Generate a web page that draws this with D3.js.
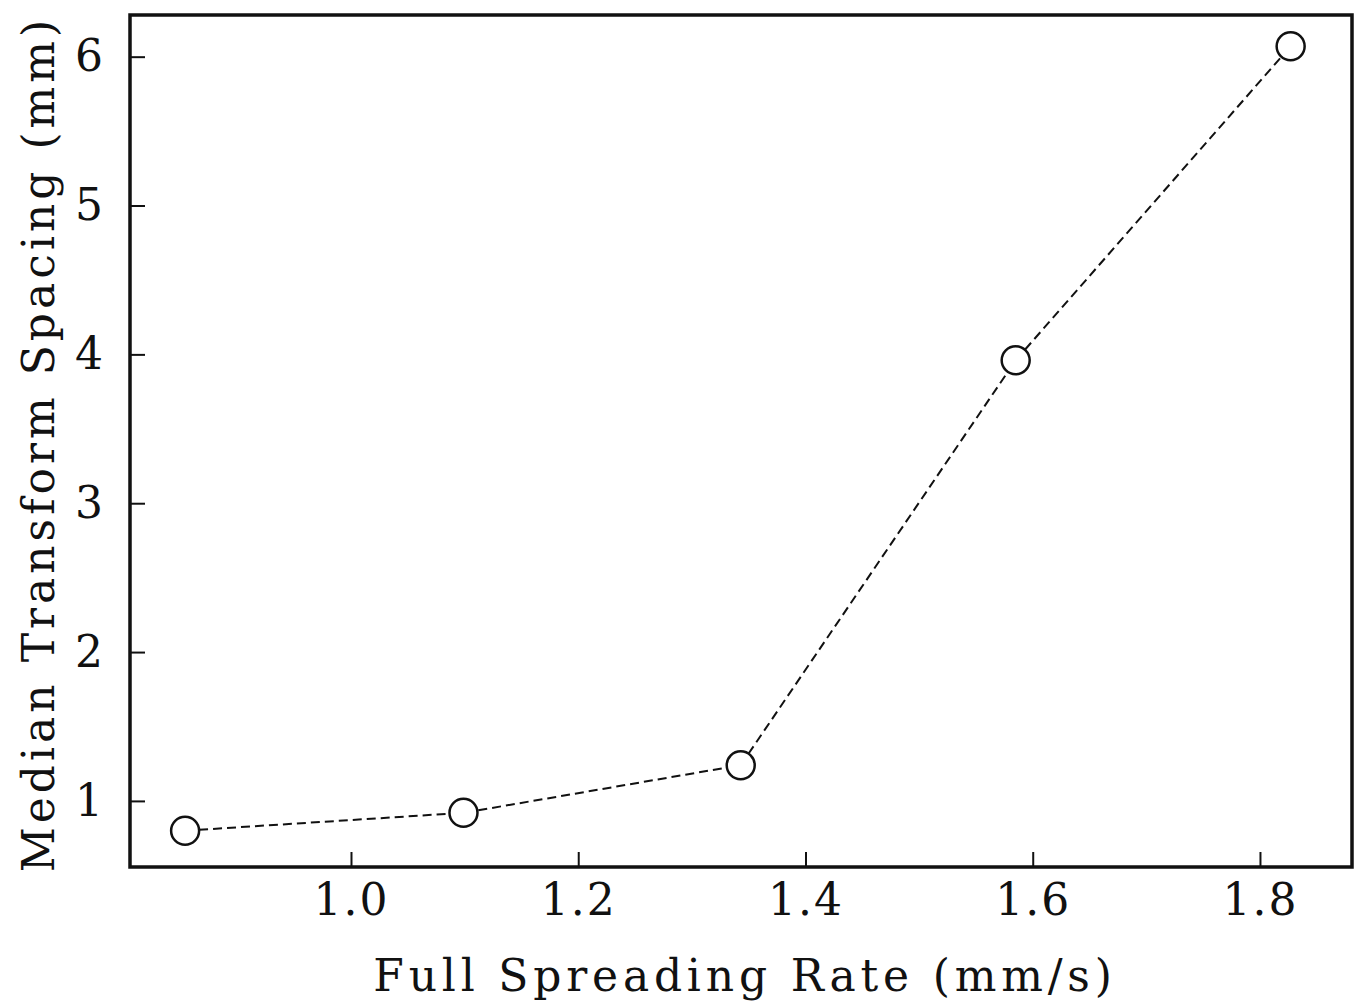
<!DOCTYPE html>
<html>
<head>
<meta charset="utf-8">
<script src="https://cdn.jsdelivr.net/npm/d3@7"></script>
<style>
  body { margin: 0; background: #fff; }
  svg text { font-family: "DejaVu Serif", "Liberation Serif", serif; fill: #111; }
</style>
</head>
<body>
<div id="chart"></div>
<script>
// Data
let spreadingRate = [0.854, 1.099, 1.343, 1.585, 1.827]
let transformSpacing = [0.80, 0.92, 1.24, 3.96, 6.07]
let xTicks = [1.0, 1.2, 1.4, 1.6, 1.8]
let yTicks = [1, 2, 3, 4, 5, 6]

let w = 1357, h = 1004
let padLeft = 130, padRight = 1352, padTop = 15, padBottom = 867

let svg = d3.select("#chart").append("svg").attr("width", w).attr("height", h)

let xScale = d3.scaleLinear().domain([0.8055, 1.881]).range([padLeft, padRight])
let yScale = d3.scaleLinear().domain([0.556, 6.28]).range([padBottom, padTop])

// x axis, ticks pointing inward
let xAxis = d3.axisBottom(xScale).tickValues(xTicks).tickFormat(d3.format(".1f"))
  .tickSizeInner(-15).tickSizeOuter(0).tickPadding(17)
let gx = svg.append("g").attr("transform", "translate(0," + padBottom + ")").call(xAxis)
gx.select(".domain").remove()
gx.selectAll("line").attr("stroke", "#111").attr("stroke-width", 2)
gx.selectAll("text").attr("font-size", 44).attr("dy", "0.71em").attr("letter-spacing", 2)

// y axis
let yAxis = d3.axisLeft(yScale).tickValues(yTicks).tickFormat(d3.format("d"))
  .tickSizeInner(-15).tickSizeOuter(0).tickPadding(27)
let gy = svg.append("g").attr("transform", "translate(" + padLeft + ",0)").call(yAxis)
gy.select(".domain").remove()
gy.selectAll("line").attr("stroke", "#111").attr("stroke-width", 2)
gy.selectAll("text").attr("font-size", 44)

// frame
svg.append("rect")
  .attr("x", padLeft).attr("y", padTop)
  .attr("width", padRight - padLeft).attr("height", padBottom - padTop)
  .attr("fill", "none").attr("stroke", "#111").attr("stroke-width", 3.5)

let points = spreadingRate.map((x, i) => [x, transformSpacing[i]])

// dashed connecting line
let line = d3.line().x(d => xScale(d[0])).y(d => yScale(d[1]))
svg.append("path")
  .datum(points)
  .attr("d", line)
  .attr("fill", "none")
  .attr("stroke", "#111")
  .attr("stroke-width", 2)
  .attr("stroke-dasharray", "9,5")

// open circle markers
svg.selectAll("circle.pt")
  .data(points)
  .enter()
  .append("circle")
  .attr("class", "pt")
  .attr("cx", d => xScale(d[0]))
  .attr("cy", d => yScale(d[1]))
  .attr("r", 14)
  .attr("fill", "#fff")
  .attr("stroke", "#111")
  .attr("stroke-width", 2.5)

// axis titles
svg.append("text")
  .attr("x", 745)
  .attr("y", 991)
  .attr("text-anchor", "middle")
  .attr("font-size", 44)
  .attr("letter-spacing", 4.8)
  .text("Full Spreading Rate (mm/s)")

svg.append("text")
  .attr("transform", "translate(54,444) rotate(-90)")
  .attr("text-anchor", "middle")
  .attr("font-size", 44)
  .attr("letter-spacing", 4)
  .text("Median Transform Spacing (mm)")
</script>
</body>
</html>
